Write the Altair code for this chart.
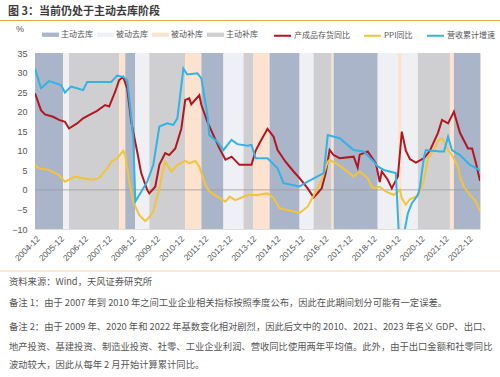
import altair as alt
import pandas as pd

# ---------------- data ----------------
band_start = ["2004-12", "2006-02", "2006-05", "2008-06", "2008-09", "2009-02", "2009-09",
              "2011-03", "2011-11", "2012-10", "2013-08", "2014-01", "2014-09", "2015-12",
              "2016-07", "2017-04", "2017-05", "2019-03", "2020-01", "2020-03", "2020-11",
              "2022-03", "2022-05"]
band_end = band_start[1:] + ["2023-06"]
band_type = ["主动去库", "被动去库", "主动补库", "被动补库", "主动去库", "被动去库", "主动补库",
             "被动补库", "主动去库", "被动去库", "主动补库", "被动补库", "主动去库", "被动去库",
             "主动补库", "被动补库", "主动去库", "被动去库", "被动补库", "被动去库", "主动补库",
             "被动补库", "主动去库"]

red_dates = ["2004-12", "2005-03", "2005-05", "2005-09", "2005-12", "2006-03", "2006-05", "2006-09",
             "2006-12", "2007-03", "2007-07", "2007-11", "2008-01", "2008-04", "2008-06", "2008-08",
             "2008-10", "2008-12", "2009-03", "2009-05", "2009-08", "2009-09", "2009-12", "2010-02",
             "2010-05", "2010-07", "2010-10", "2011-01", "2011-03", "2011-05", "2011-06", "2011-10",
             "2011-11", "2012-02", "2012-05", "2012-08", "2012-11", "2013-02", "2013-06", "2013-12",
             "2014-02", "2014-04", "2014-08", "2014-11", "2015-01", "2015-05", "2015-09", "2015-12",
             "2016-04", "2016-07", "2016-09", "2016-11", "2017-01", "2017-03", "2017-05", "2017-08",
             "2018-03", "2018-05", "2018-06", "2018-10", "2019-02", "2019-04", "2019-05", "2019-08",
             "2019-10", "2020-01", "2020-03", "2020-05", "2020-07", "2020-10", "2021-02", "2021-05",
             "2021-09", "2021-11", "2022-02", "2022-05", "2022-08", "2022-12", "2023-02", "2023-04",
             "2023-06"]
red_vals = [24.7, 20.4, 19.3, 18.7, 17.9, 17.4, 15.7, 17.0,
            18.3, 19.1, 20.2, 21.7, 21.3, 25.1, 28.1, 28.9,
            25.9, 17.4, 9.8, 4.3, 0.0, -0.9, 0.8, 6.4,
            9.4, 8.9, 10.6, 15.7, 23.0, 23.4, 21.9, 24.2,
            21.7, 17.4, 14.0, 10.6, 7.7, 8.5, 6.4, 6.4,
            10.0, 11.9, 15.6, 13.6, 10.2, 7.2, 4.7, 3.0,
            0.4, -1.9, -0.8, 0.4, 4.3, 10.2, 8.9, 8.1,
            8.5, 5.7, 9.0, 9.8, 6.8, 2.0, 4.7, 2.6,
            0.4, 3.4, 14.9, 10.0, 7.9, 7.0, 8.1, 10.0,
            14.6, 17.9, 17.0, 20.0, 14.6, 10.6, 10.6, 6.8,
            2.3]

ppi_dates = ["2004-12", "2005-02", "2005-07", "2005-12", "2006-03", "2006-08", "2006-12", "2007-05",
             "2007-08", "2007-12", "2008-02", "2008-05", "2008-08", "2008-09", "2008-11", "2009-01",
             "2009-04", "2009-07", "2009-09", "2009-11", "2010-02", "2010-04", "2010-05", "2010-08",
             "2010-11", "2011-03", "2011-05", "2011-08", "2011-10", "2012-01", "2012-03", "2012-07",
             "2012-11", "2013-01", "2013-04", "2013-10", "2014-03", "2014-08", "2014-11", "2015-02",
             "2015-09", "2015-12", "2016-04", "2016-07", "2016-11", "2017-02", "2017-03", "2017-08",
             "2018-03", "2018-06", "2018-10", "2018-12", "2019-01", "2019-04", "2019-07", "2019-11",
             "2020-02", "2020-03", "2020-05", "2020-07", "2020-10", "2020-12", "2021-02", "2021-04",
             "2021-07", "2021-09", "2021-11", "2022-02", "2022-04", "2022-07", "2022-08", "2022-10",
             "2023-01", "2023-04", "2023-06"]
ppi_vals = [6.4, 5.5, 5.1, 3.8, 2.1, 3.4, 3.0, 2.6,
            3.0, 5.5, 7.2, 8.1, 10.0, 8.9, 2.1, -3.0,
            -6.4, -8.0, -7.0, -5.5, 0.4, 5.5, 7.2, 4.7,
            6.4, 7.4, 6.8, 7.4, 5.9, 1.3, -0.4, -1.7,
            -3.0, -1.7, -2.6, -1.3, -1.3, -0.9, -2.1, -4.7,
            -5.5, -5.9, -4.3, -1.5, 2.6, 7.2, 7.7, 6.2,
            3.4, 4.7, 3.0, 0.8, 0.4, 0.8, -0.4, -1.3,
            0.0, -2.1, -3.8, -2.4, -1.7, -0.4, 2.5, 8.1,
            10.2, 12.5, 13.2, 10.2, 8.9, 5.9, 3.4, 0.8,
            -1.3, -3.0, -5.5]

rev_dates = ["2004-12", "2005-03", "2005-07", "2005-09", "2006-01", "2006-03", "2006-06", "2006-09",
             "2006-12", "2007-02", "2007-08", "2008-02", "2008-05", "2008-08", "2008-10", "2008-11",
             "2009-01", "2009-02", "2009-08", "2009-11", "2010-02", "2010-06", "2010-09", "2010-11",
             "2011-02", "2011-04", "2011-09", "2011-11", "2012-02", "2012-03", "2012-07", "2012-10",
             "2013-02", "2013-05", "2013-10", "2013-12", "2014-02", "2014-08", "2015-01", "2015-04",
             "2015-12", "2016-04", "2016-12", "2017-02", "2017-08", "2018-03", "2018-08", "2019-01",
             "2019-03", "2019-06", "2019-12", "2020-02", "2020-04", "2020-06", "2020-08", "2020-11",
             "2020-12", "2021-02", "2021-03", "2021-10", "2021-12", "2022-02", "2022-04", "2022-08",
             "2023-01", "2023-06"]
rev_vals = [31.0, 26.0, 27.8, 27.5, 26.8, 24.9, 26.4, 26.0,
            25.5, 27.6, 27.6, 27.6, 29.2, 28.9, 28.0, 23.4,
            13.2, -3.0, 2.1, 6.4, 16.2, 17.0, 16.6, 18.3,
            31.0, 29.5, 29.8, 28.5, 19.1, 14.0, 12.3, 10.2,
            12.8, 11.7, 11.3, 11.5, 8.1, 8.1, 5.5, 1.7,
            0.9, 2.1, 4.3, 14.0, 13.2, 10.2, 9.8, 7.2,
            6.0, 5.1, 4.3, -17.0, -11.5, -6.0, -3.4, -1.3,
            0.8, 8.5, 10.2, 9.8, 9.8, 13.6, 10.2, 8.9,
            6.4, 5.0]

band_order = ["主动去库", "被动去库", "被动补库", "主动补库"]
band_colors = ["#aab5c9", "#eff0f4", "#fde3cf", "#cfcfd1"]
series_order = ["产成品存货同比", "PPI同比", "营收累计增速"]
series_colors = ["#b3161e", "#f2c43a", "#33b2e4"]

x_ticks = list(range(2004, 2023))

title_text = "图 3：当前仍处于主动去库阶段"
footer_lines = [
    "资料来源：Wind，天风证券研究所",
    "备注 1：由于 2007 年到 2010 年之间工业企业相关指标按照季度公布，因此在此期间划分可能有一定误差。",
    "备注 2：由于 2009 年、2020 年和 2022 年基数变化相对剧烈，因此后文中的 2010、2021、2023 年名义 GDP、出口、",
    "地产投资、基建投资、制造业投资、社零、工业企业利润、营收同比使用两年平均值。此外，由于出口金额和社零同比",
    "波动较大，因此从每年 2 月开始计算累计同比。",
]

# ---------------- tables ----------------
bands = pd.DataFrame({
    "start": pd.to_datetime(band_start, format="%Y-%m"),
    "end": pd.to_datetime(band_end, format="%Y-%m"),
    "type": band_type,
})

def series_df(dates, vals, name):
    return pd.DataFrame({"date": pd.to_datetime(dates, format="%Y-%m"), "value": vals, "series": name})

red_df = series_df(red_dates, red_vals, series_order[0])
ppi_df = series_df(ppi_dates, ppi_vals, series_order[1])
rev_df = series_df(rev_dates, rev_vals, series_order[2])

FONT = "Noto Sans CJK SC"
NUMFONT = "Liberation Sans"

x_scale = alt.Scale(domain=[alt.DateTime(year=2004, month=12, date=1),
                            alt.DateTime(year=2023, month=6, date=1)])
y_scale = alt.Scale(domain=[-10, 35], nice=False, zero=False)

x_axis = alt.Axis(
    values=[alt.DateTime(year=y, month=12, date=1) for y in x_ticks],
    format="%Y-%m", labelAngle=-45, labelFontSize=8.5, labelColor="#555",
    labelFont=NUMFONT, domain=False, ticks=False, grid=False, title=None,
    labelOverlap=False, labelPadding=5, labelBound=False, labelFlush=False,
)
y_axis = alt.Axis(
    values=list(range(-10, 36, 5)), labelFontSize=9, labelColor="#555", labelFont=NUMFONT,
    domain=False, ticks=False, grid=False, title=None, labelPadding=8,
)

fill_legend = alt.Legend(
    orient="none", legendX=7, legendY=-27, direction="horizontal", title=None,
    symbolType="M-1,-0.25H1V0.25H-1Z", symbolSize=289, symbolStrokeWidth=0,
    symbolOpacity=1, labelFontSize=8, labelColor="#555", labelFont=FONT,
    columnPadding=4, padding=0, labelOffset=2,
)
stroke_legend = alt.Legend(
    orient="none", legendX=238, legendY=-27, direction="horizontal", title=None,
    symbolType="stroke", symbolSize=289, symbolStrokeWidth=2,
    labelFontSize=8, labelColor="#555", labelFont=FONT,
    columnPadding=10, padding=0, labelOffset=2,
)

band_layer = alt.Chart(bands).mark_rect(opacity=1).encode(
    x=alt.X("start:T", scale=x_scale, axis=x_axis),
    x2="end:T",
    fill=alt.Fill("type:N", scale=alt.Scale(domain=band_order, range=band_colors),
                  legend=fill_legend),
)

zero_layer = alt.Chart(pd.DataFrame({"v": [0]})).mark_rule(color="#9a9a9a", strokeWidth=0.8).encode(
    y=alt.Y("v:Q", scale=y_scale, axis=y_axis)
)

def line_layer(df):
    return alt.Chart(df).mark_line(strokeWidth=2, clip=True).encode(
        x=alt.X("date:T", scale=x_scale, axis=x_axis),
        y=alt.Y("value:Q", scale=y_scale, axis=y_axis),
        stroke=alt.Stroke("series:N", scale=alt.Scale(domain=series_order, range=series_colors),
                          legend=stroke_legend),
    )

dummy = pd.DataFrame({"a": [0]})

title_layer = alt.Chart(pd.DataFrame({"t": [title_text]})).mark_text(
    align="left", baseline="middle", fontSize=11, fontWeight="bold", color="#3a3a3a", font=FONT
).encode(text="t:N", x=alt.value(-27), y=alt.value(-41))

top_rule = alt.Chart(dummy).mark_rule(color="#e9a657", strokeWidth=1).encode(
    x=alt.value(-35), x2=alt.value(465), y=alt.value(-32.5))

bottom_rule = alt.Chart(dummy).mark_rule(color="#f3d2b0", strokeWidth=1).encode(
    x=alt.value(-35), x2=alt.value(465), y=alt.value(218))

pct_layer = alt.Chart(pd.DataFrame({"t": ["%"]})).mark_text(
    align="center", baseline="middle", fontSize=9, color="#555", font=NUMFONT
).encode(text="t:N", x=alt.value(-15), y=alt.value(-24))

footer_y = [228.7, 250, 273.7, 293.7, 312]
footer_layers = []
for line, yy in zip(footer_lines, footer_y):
    footer_layers.append(
        alt.Chart(pd.DataFrame({"t": [line]})).mark_text(
            align="left", baseline="middle", fontSize=9.3, color="#555", font=FONT
        ).encode(text="t:N", x=alt.value(-26), y=alt.value(yy))
    )

chart = alt.layer(
    band_layer, zero_layer, line_layer(red_df), line_layer(ppi_df), line_layer(rev_df),
    title_layer, top_rule, bottom_rule, pct_layer, *footer_layers
).resolve_scale(x="shared", y="shared").properties(
    width=445, height=176,
    autosize=alt.AutoSizeParams(type="none"),
    padding={"left": 35, "top": 53, "right": 20, "bottom": 148},
).configure_view(stroke=None).configure(background="white")

chart.save("out.html", embed_options={"renderer": "svg", "actions": False})
